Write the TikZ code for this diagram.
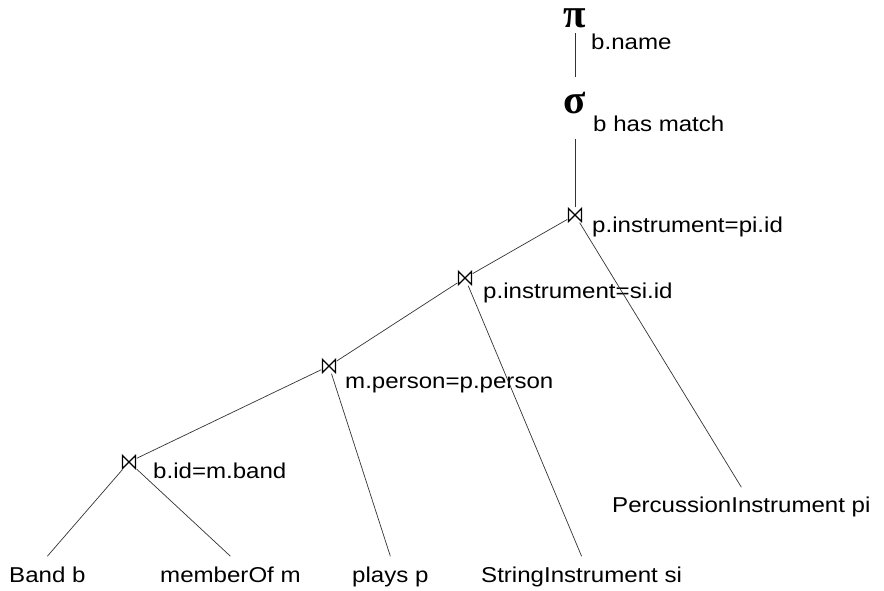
\documentclass[tikz,border=0pt]{standalone}
\usepackage{fontspec}
\setmainfont{Liberation Sans}[FakeStretch=1.12]
\newfontfamily\greekfont{Liberation Serif}

\begin{document}
\begin{tikzpicture}
    [
        x=1pt, y=-1pt,
        edge/.style={draw=black!80, line width=0.7pt},
        joinop/.style={minimum width=15pt, minimum height=15pt, inner sep=0pt,
            path picture={
                \draw [line width=1.1pt]
                    ([shift={(1pt,-1pt)}]path picture bounding box.north west)
                    -- ([shift={(-1pt,1pt)}]path picture bounding box.south east)
                    -- ([shift={(-1pt,-1pt)}]path picture bounding box.north east)
                    -- ([shift={(1pt,1pt)}]path picture bounding box.south west)
                    -- cycle;
            }},
        cond/.style={anchor=base west, inner sep=0pt, font=\fontsize{21.5}{26}\selectfont},
        relation/.style={anchor=base west, inner xsep=0pt, inner ysep=10pt,
            font=\fontsize{21.5}{26}\selectfont},
        greekop/.style={anchor=base, inner xsep=0pt, text depth=0pt,
            font=\greekfont\bfseries\fontsize{41}{41}\selectfont},
    ]
    \useasboundingbox (0, 0) rectangle (884, 591);

    \node [greekop, text height=19pt, inner ysep=5pt] (pi) at (575, 28) {π};
    \node [cond] (pilbl) at (591, 50) {b.name};
    \node [greekop, text height=17pt, inner ysep=20pt] (sigma) at (575, 114) {σ};
    \node [cond] (sigmalbl) at (593, 132) {b has match};

    \node [joinop] (j1) at (575, 215) {};
    \node [cond] (j1lbl) at (592, 233) {p.instrument=pi.id};
    \node [joinop] (j2) at (465, 278) {};
    \node [cond] (j2lbl) at (483, 298) {p.instrument=si.id};
    \node [joinop] (j3) at (329, 366) {};
    \node [cond] (j3lbl) at (345, 388) {m.person=p.person};
    \node [joinop] (j4) at (129, 462) {};
    \node [cond] (j4lbl) at (153, 478) {b.id=m.band};

    \foreach \name/\x/\y/\txt in
    {band/9/582/Band b, member/160/582/memberOf m, plays/352/582/plays p,
     string/481/582/StringInstrument si}
    {
        \node [relation] (\name) at (\x, \y) {\txt};
    }
    \node [relation, inner ysep=9pt] (perc) at (612, 512) {PercussionInstrument pi};

    \draw [edge] (pi) -- (sigma);
    \draw [edge, shorten <=5pt] (sigma) -- (j1);
    \foreach \a/\b in {j1/j2, j2/j3, j3/j4} {
        \draw [edge] (\a) -- (\b);
    }
    \foreach \a/\b in {j1/perc, j2/string, j3/plays, j4/band, j4/member} {
        \draw [edge] (\a) -- (\b.north);
    }
\end{tikzpicture}
\end{document}
